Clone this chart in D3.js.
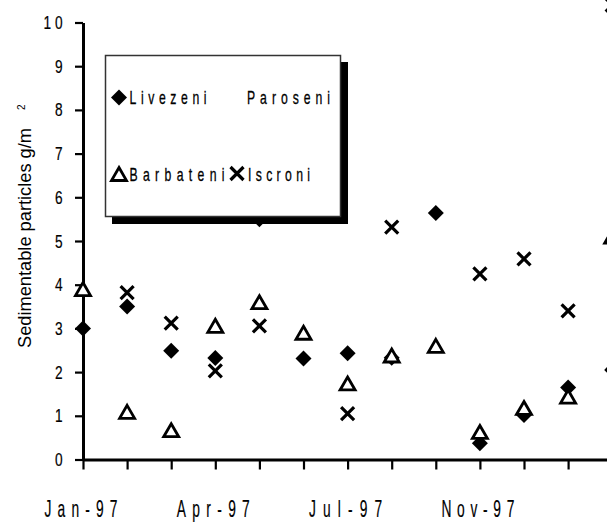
<!DOCTYPE html>
<html><head><meta charset="utf-8">
<script src="https://cdn.jsdelivr.net/npm/d3@7"></script>
<style>html,body{margin:0;padding:0;background:#fff;overflow:hidden}</style>
</head><body>
<script>
// ---- data ----
const categories = ["Jan-97","Feb-97","Mar-97","Apr-97","May-97","Jun-97","Jul-97","Aug-97","Sep-97","Nov-97","Dec-97","Jan-98","Feb-98"];
const tickLabels = ["Jan-97","","","Apr-97","","","Jul-97","","","Nov-97","","",""];
const yTicks = [0,1,2,3,4,5,6,7,8,9,10];
const livezeni  = [3.0, 3.5, 2.49, 2.32, 5.5, 2.31, 2.43, 2.33, 5.64, 0.37, 1.02, 1.65, 2.05];
const paroseni  = [];
const barbateni = [3.9, 1.09, 0.67, 3.06, 3.6, 2.9, 1.74, 2.38, 2.6, 0.63, 1.18, 1.44, 5.1];
const iscroni   = [null, 3.82, 3.12, 2.03, 3.06, null, 1.05, 5.32, null, 4.25, 4.59, 3.4, 10.4];
const seriesNames = ["Livezeni","Paroseni","Barbateni","Iscroni"];
const yTitle = "Sedimentable particles g/m";

const W = 607, H = 522;
const svg = d3.select("body").append("svg").attr("width", W).attr("height", H);
const FONT = "'Liberation Sans', Arial, Helvetica, sans-serif";

const x = d3.scaleLinear().domain([0, 13]).range([83, 83 + 13 * 44.1]);
const y = d3.scaleLinear().domain([0, 10]).range([459.5, 22.5]);

function label(g, str, px, py, o) {
  const t = g.append("text")
    .attr("transform", `translate(${px},${py}) scale(${o.sx},1)`)
    .attr("font-size", o.size).attr("font-family", FONT)
    .attr("text-anchor", o.anchor || "start").attr("fill", "#000")
    .attr("stroke", "#000").attr("stroke-width", o.sw || 0.35).text(str);
  if (o.width && str.length > 1) t.attr("textLength", o.width / o.sx).attr("lengthAdjust", "spacing");
  return t;
}

// ---- axes ----
const yAxis = svg.append("g").attr("transform", `translate(${x(0)},0)`)
  .call(d3.axisLeft(y).tickValues(yTicks).tickSize(8).tickSizeOuter(0).tickFormat(""));
yAxis.select(".domain").attr("stroke", "#000").attr("stroke-width", 3);
yAxis.selectAll(".tick line").attr("stroke", "#000").attr("stroke-width", 2.2);

const xAxis = svg.append("g").attr("transform", `translate(0,${y(0)})`)
  .call(d3.axisBottom(x).tickValues(d3.range(0, 14)).tickSize(10).tickSizeOuter(0).tickFormat(""));
xAxis.select(".domain").attr("stroke", "#000").attr("stroke-width", 3.2);
xAxis.selectAll(".tick line").attr("stroke", "#000").attr("stroke-width", 2.2);

const lab = svg.append("g");
yTicks.forEach(d => label(lab, String(d), 62.5, y(d) + 6.5, {size: 18, sx: 0.76, anchor: "end", width: 19, sw: 0.2}));
tickLabels.forEach((d, i) => { if (d) label(lab, d, x(i) - 2, 517, {size: 23, sx: 0.6, anchor: "middle", width: 73, sw: 0.2}); });

// y title
svg.append("text").attr("transform", "translate(31,348) rotate(-90)")
  .attr("font-size", 17.5).attr("font-family", FONT).attr("textLength", 220).attr("lengthAdjust", "spacingAndGlyphs")
  .text(yTitle);
svg.append("text").attr("transform", "translate(25,110) rotate(-90)")
  .attr("font-size", 10).attr("font-family", FONT).text("2");

// ---- markers ----
const diamondPath = "M0,-8L8,0L0,8L-8,0Z";
const triPath = "M0,-6.5L7.5,6.5L-7.5,6.5Z";
const crossPath = "M-6.5,-6.5L6.5,6.5M-6.5,6.5L6.5,-6.5";

function drawSeries(vals, path, fill, stroke, sw) {
  svg.append("g").selectAll("path").data(vals.map((v, i) => ({v, i})).filter(d => d.v != null))
    .join("path").attr("d", path)
    .attr("transform", d => `translate(${x(d.i)},${y(d.v)})`)
    .attr("fill", fill).attr("stroke", stroke).attr("stroke-width", sw);
}
drawSeries(livezeni, diamondPath, "#000", "none", 0);
drawSeries(paroseni, diamondPath, "none", "none", 0);
drawSeries(barbateni, triPath, "#fff", "#000", 2.8);
drawSeries(iscroni, crossPath, "none", "#000", 3.2);

// ---- legend ----
const lg = svg.append("g");
lg.append("rect").attr("x", 112).attr("y", 62).attr("width", 236).attr("height", 162).attr("fill", "#000");
lg.append("rect").attr("x", 105.5).attr("y", 55.5).attr("width", 235).attr("height", 161)
  .attr("fill", "#fff").attr("stroke", "#333").attr("stroke-width", 1.5);
lg.append("path").attr("d", diamondPath).attr("transform", "translate(119,97.5)").attr("fill", "#000");
lg.append("path").attr("d", triPath).attr("transform", "translate(119,174)").attr("fill", "#fff").attr("stroke", "#000").attr("stroke-width", 2.8);
lg.append("path").attr("d", crossPath).attr("transform", "translate(237,173.5)").attr("fill", "none").attr("stroke", "#000").attr("stroke-width", 3.2);
const lo = {size: 18.5, sx: 0.66, sw: 0.3};
label(lg, seriesNames[0], 129.5, 103.5, {...lo, width: 77});
label(lg, seriesNames[1], 247, 103.5, {...lo, width: 83});
label(lg, seriesNames[2], 129.5, 181, {...lo, width: 95});
label(lg, seriesNames[3], 248, 181, {...lo, width: 62});
</script>
</body></html>
